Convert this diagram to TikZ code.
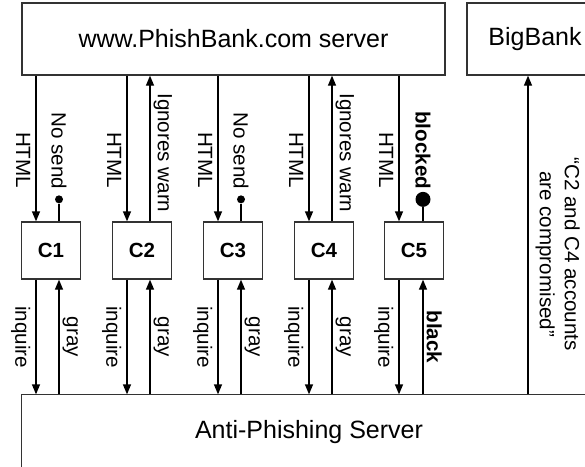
\documentclass[tikz,border=0pt]{standalone}
\usepackage{fontspec}
\setmainfont{Liberation Sans}
\usepackage{tikz}
\usetikzlibrary{positioning}
\usetikzlibrary{arrows.meta,calc}
\tikzstyle{server}=[rectangle,draw=black!80,line width=1.3pt,inner sep=0pt,font=\fontsize{25}{30}\selectfont]
\tikzstyle{client}=[rectangle,draw=black!80,line width=1.3pt,minimum width=59pt,minimum height=57pt,inner sep=0pt,font=\fontsize{20.5}{24}\selectfont\bfseries]
\tikzstyle{smalldot}=[circle,fill=black,minimum size=8pt,inner sep=0pt]
\tikzstyle{bigdot}=[circle,fill=black,minimum size=15pt,inner sep=0pt]
\tikzstyle{edge} = [draw,line width=1.3pt,-{Triangle[width=8pt,length=10pt]}]
\tikzstyle{stub} = [draw,line width=1.3pt]
\tikzstyle{weight} = [font=\fontsize{20.6}{25}\selectfont,rotate=-90,inner xsep=0pt,inner ysep=1pt]
\tikzstyle{leftlabel} = [weight,anchor=north,inner ysep=5pt]
\tikzstyle{rightlabel} = [weight,anchor=south,inner ysep=3pt]

\begin{document}
\begin{tikzpicture}[x=1pt,y=-1pt]
    \path[use as bounding box] (0,0) rectangle (585,466);
    \clip (0,0) rectangle (585,466);

    % The servers
    \node[server,minimum width=423pt,minimum height=72pt] (phish) at (233.5,39) {www.PhishBank.com server};
    \node[server,minimum width=136pt,minimum height=72pt] (bigbank) at (535,39) {BigBank};
    \node[server,draw=none,minimum width=574pt,minimum height=74pt] (anti) at (309,432) {Anti-Phishing Server};
    \draw[draw=black!80,line width=1.3pt] (anti.north west) rectangle ([yshift=-30pt]anti.south east);

    % The clients
    \foreach \pos/\name/\label in {{(51,250.5)/C1/C1}, {(142,250.5)/C2/C2}, {(233,250.5)/C3/C3}, {(324,250.5)/C4/C4}, {(414,250.5)/C5/C5}}
        \node[client] (\name) at \pos {\label};

    % Server to clients
  \foreach \name in {C1,C2,C3,C4,C5}
          \path[edge] ([xshift=-15pt]\name.north |- phish.south) -- node[leftlabel,pos=0.58] {HTML} ([xshift=-15pt]\name.north);
  \foreach \name in {C2,C4}
          \path[edge] ([xshift=8pt]\name.north) -- node[rightlabel,pos=0.47] {Ignores warn} ([xshift=8pt]\name.north |- phish.south);
  \foreach \name in {C1,C3}{
          \node[smalldot] (\name dot) at ([xshift=8pt,yshift=22pt]\name.north) {};
          \path[stub] (\name.north -| \name dot) -- (\name dot);
          \node[weight,anchor=east] at ([yshift=10pt]\name dot) {No send};
  }
    \node[bigdot] (C5dot) at ([xshift=9pt,yshift=22pt]C5.north) {};
    \path[stub] (C5.north -| C5dot) -- (C5dot);
    \node[weight,anchor=east] at ([yshift=10pt]C5dot) {\bfseries blocked};

    % Clients to the anti-phishing server
  \foreach \name in {C1,C2,C3,C4,C5}
          \path[edge] ([xshift=-15pt]\name.south) -- node[leftlabel] {inquire} ([xshift=-15pt]\name.south |- anti.north);
  \foreach \name in {C1,C2,C3,C4}
          \path[edge] ([xshift=8pt]\name.south |- anti.north) -- node[rightlabel] {gray} ([xshift=8pt]\name.south);
    \path[edge] ([xshift=9pt]C5.south |- anti.north) -- node[rightlabel] {\bfseries black} ([xshift=9pt]C5.south);

    % Report to the bank
    \path[edge] ([xshift=-7pt]bigbank.south |- anti.north) -- node[rightlabel,align=center,pos=0.44,inner ysep=7pt] {“C2 and C4 accounts\\are compromised”} ([xshift=-7pt]bigbank.south);

\end{tikzpicture}
\end{document}
